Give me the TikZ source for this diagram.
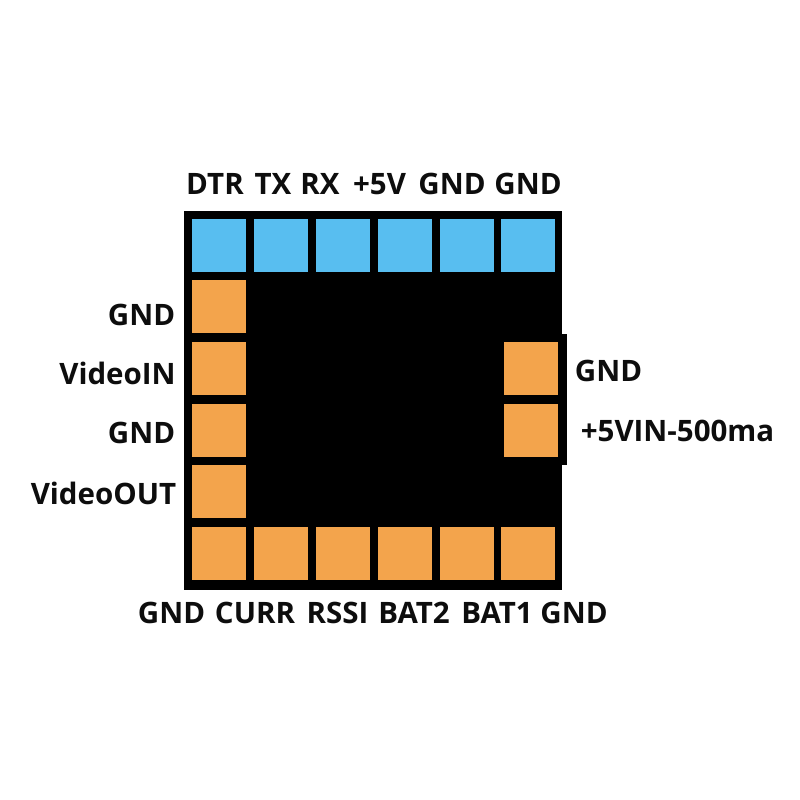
\documentclass[tikz,border=0pt]{standalone}
\usepackage{fontspec}
\setmainfont{Open Sans}
\definecolor{pinblue}{HTML}{58BEF0}
\definecolor{pinorange}{HTML}{F3A44C}
\tikzset{
  board/.style={fill=black,draw=none},
  bluepad/.style={fill=pinblue,draw=none},
  orangepad/.style={fill=pinorange,draw=none},
  lbl/.style={font=\bfseries\fontsize{29.5}{32}\selectfont,text=black!95,inner sep=0pt,anchor=center}
}
\begin{document}
\begin{tikzpicture}[x=1pt,y=1pt]
\useasboundingbox (0,0) rectangle (800,800);
\fill[white] (0,0) rectangle (800,800);
\fill[board] (184,800-211) rectangle (562,800-590);
\fill[board] (561,800-334) rectangle (566.5,800-465);
\foreach \a/\b in {192/246,254/307.5,316/370,378/432,440/494,501/555}{
  \fill[bluepad] (\a,800-219) rectangle (\b,800-272);
  \fill[orangepad] (\a,800-527) rectangle (\b,800-580);
}
\foreach \a/\b in {280/333,342/395,404/457,465/518}{
  \fill[orangepad] (192,800-\a) rectangle (246,800-\b);
}
\foreach \a/\b in {342/395,404/457}{
  \fill[orangepad] (504,800-\a) rectangle (557.5,800-\b);
}
\node[lbl] (t1) at (215,800-184) {DTR};
\node[lbl] (t2) at (273,800-184) {TX};
\node[lbl] (t3) at (320,800-184) {RX};
\node[lbl] (t4) at (379.5,800-184) {+5V};
\node[lbl] (t5) at (452,800-184) {GND};
\node[lbl] (t6) at (528,800-184) {GND};
\node[lbl] (l1) at (141.5,800-315) {GND};
\node[lbl] (l2) at (117.5,800-373) {VideoIN};
\node[lbl] (l3) at (141.5,800-433) {GND};
\node[lbl] (l4) at (103.5,800-493) {VideoOUT};
\node[lbl] (r1) at (608.5,800-371) {GND};
\node[lbl] (r2) at (677.5,800-431) {+5VIN-500ma};
\node[lbl] (b1) at (171.5,800-613) {GND};
\node[lbl] (b2) at (255,800-613) {CURR};
\node[lbl] (b3) at (337.5,800-613) {RSSI};
\node[lbl] (b4) at (414,800-613) {BAT2};
\node[lbl] (b5) at (497,800-613) {BAT1};
\node[lbl] (b6) at (574,800-613) {GND};
\end{tikzpicture}
\end{document}
